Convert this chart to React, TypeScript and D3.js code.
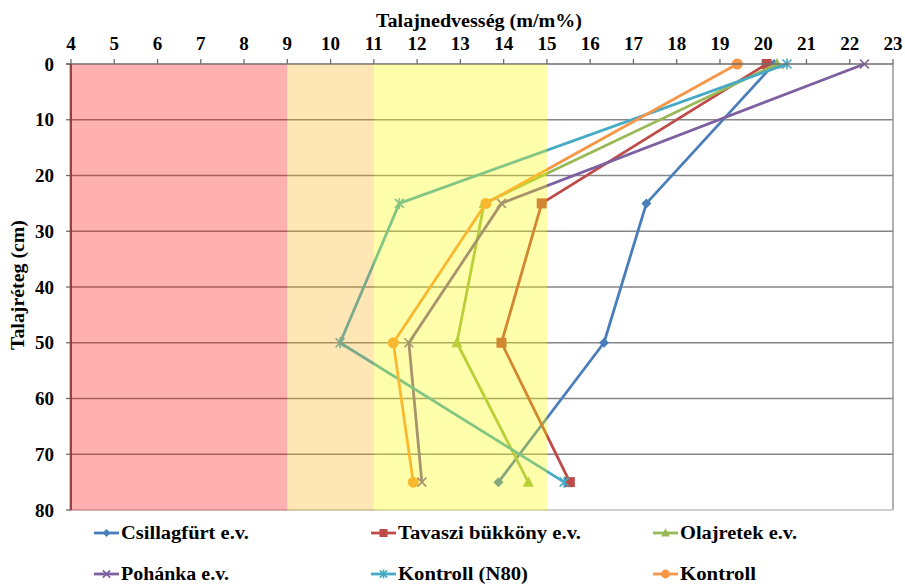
import React from "react";
import * as d3 from "d3";

const depths = [0, 25, 50, 75];
const xTickValues = d3.range(4, 24);
const yTickValues = [0, 10, 20, 30, 40, 50, 60, 70, 80];

const csillagfurt = [20.25, 17.3, 16.32, 13.88];
const tavaszi = [20.08, 14.88, 13.95, 15.53];
const olajretek = [20.32, 13.55, 12.92, 14.57];
const pohanka = [22.34, 13.95, 11.81, 12.11];
const kontrollN80 = [20.55, 11.59, 10.22, 15.4];
const kontroll = [19.4, 13.59, 11.45, 11.91];

const seriesNames = [
  "Csillagfürt e.v.",
  "Tavaszi bükköny e.v.",
  "Olajretek e.v.",
  "Pohánka e.v.",
  "Kontroll (N80)",
  "Kontroll",
];
const seriesValues = [csillagfurt, tavaszi, olajretek, pohanka, kontrollN80, kontroll];
const seriesColors = ["#4a7ebb", "#be4b48", "#98b954", "#7d60a0", "#46aac5", "#f79646"];
const seriesMarkers = ["diamond", "square", "triangle", "x", "star", "circle"];

// Moisture zones (m/m%)
const zoneRanges = [
  [4, 9],
  [9, 11],
  [11, 15],
];
const zoneColors = ["rgb(255,0,0)", "rgb(250,168,0)", "rgb(255,255,0)"];
const zoneOpacity = [0.31, 0.29, 0.33];

const FONT = "'Liberation Serif', 'Times New Roman', serif";

function Marker({ type, cx, cy, color, s = 1 }: { type: string; cx: number; cy: number; color: string; s?: number }) {
  switch (type) {
    case "diamond":
      return (
        <path
          d={`M${cx},${cy - 5 * s}L${cx + 5 * s},${cy}L${cx},${cy + 5 * s}L${cx - 5 * s},${cy}Z`}
          fill={color}
        />
      );
    case "square":
      return <rect x={cx - 5 * s} y={cy - 5 * s} width={10 * s} height={10 * s} fill={color} />;
    case "triangle":
      return (
        <path
          d={`M${cx},${cy - 6 * s}L${cx + 5.5 * s},${cy + 4.5 * s}L${cx - 5.5 * s},${cy + 4.5 * s}Z`}
          fill={color}
        />
      );
    case "x": {
      const a = 4.5 * s;
      return (
        <path
          d={`M${cx - a},${cy - a}L${cx + a},${cy + a}M${cx - a},${cy + a}L${cx + a},${cy - a}`}
          stroke={color}
          strokeWidth={1.6}
        />
      );
    }
    case "star": {
      const a = 4.5 * s;
      return (
        <path
          d={`M${cx - a},${cy - a}L${cx + a},${cy + a}M${cx - a},${cy + a}L${cx + a},${cy - a}M${cx},${cy - a - 1}L${cx},${cy + a + 1}`}
          stroke={color}
          strokeWidth={1.6}
        />
      );
    }
    case "circle":
    default:
      return <circle cx={cx} cy={cy} r={5.5 * s} fill={color} />;
  }
}

export default function App() {
  const W = 905;
  const H = 585;
  const x = d3.scaleLinear().domain([4, 23]).range([71, 893]);
  const y = d3.scaleLinear().domain([0, 80]).range([64, 510]);

  const line = d3
    .line<[number, number]>()
    .x((d) => x(d[0]))
    .y((d) => y(d[1]));

  const legendCols = [94, 371, 653];
  const legendRows = [533, 574];
  const legendTextLen = [128, 183, 117, 108, 130, 76];

  return (
    <svg
      width={W}
      height={H}
      style={{ position: "absolute", left: 0, top: 0, background: "#fff" }}
      fontFamily={FONT}
      fontWeight="bold"
    >
      <rect x={0} y={0} width={W} height={H} fill="#fff" />
      {/* gridlines */}
      {yTickValues.slice(1, -1).map((t) => (
        <line key={t} x1={x(4)} x2={x(23)} y1={y(t)} y2={y(t)} stroke="#868686" strokeWidth={1.3} />
      ))}
      {/* plot border */}
      <line x1={x(23)} x2={x(23)} y1={y(0)} y2={y(80)} stroke="#868686" strokeWidth={1.3} />
      <line x1={x(4)} x2={x(23)} y1={y(80)} y2={y(80)} stroke="#c0c0c0" strokeWidth={1.3} />

      {/* series */}
      {seriesValues.map((vals, i) => {
        const pts = vals.map((v, j) => [v, depths[j]] as [number, number]);
        return (
          <g key={i}>
            <path d={line(pts) || ""} fill="none" stroke={seriesColors[i]} strokeWidth={2.8} strokeLinejoin="round" />
            {pts.map((p, j) => (
              <Marker key={j} type={seriesMarkers[i]} cx={x(p[0])} cy={y(p[1])} color={seriesColors[i]} />
            ))}
          </g>
        );
      })}

      {/* axes */}
      <line x1={x(4) - 5} x2={x(23)} y1={y(0)} y2={y(0)} stroke="#6e6e6e" strokeWidth={1.3} />
      {xTickValues.map((t) => (
        <line key={t} x1={x(t)} x2={x(t)} y1={y(0) - 5} y2={y(0)} stroke="#6e6e6e" strokeWidth={1.3} />
      ))}
      <line x1={x(4)} x2={x(4)} y1={y(0)} y2={y(80)} stroke="#3a3a3a" strokeWidth={1.6} />
      {yTickValues.map((t) => (
        <line key={t} x1={x(4) - 5} x2={x(4)} y1={y(t)} y2={y(t)} stroke="#6e6e6e" strokeWidth={1.3} />
      ))}

      {/* zone overlays */}
      {zoneRanges.map((r, i) => (
        <rect
          key={i}
          x={x(r[0]) - (i === 0 ? 2 : 0)}
          y={y(0) + 0.5}
          width={x(r[1]) - x(r[0]) + (i === 0 ? 2 : 0)}
          height={y(80) - y(0)}
          fill={zoneColors[i]}
          fillOpacity={zoneOpacity[i]}
        />
      ))}

      {/* tick labels */}
      {xTickValues.map((t) => (
        <text key={t} x={x(t)} y={50} textAnchor="middle" fontSize={19} fill="#000">
          {t}
        </text>
      ))}
      {yTickValues.map((t) => (
        <text key={t} x={54} y={y(t)} dy="0.35em" textAnchor="end" fontSize={19} fill="#000">
          {t}
        </text>
      ))}

      {/* axis titles */}
      <text x={479} y={27} textAnchor="middle" fontSize={18} textLength={206} lengthAdjust="spacingAndGlyphs">
        Talajnedvesség (m/m%)
      </text>
      <text
        transform={`translate(24,285) rotate(-90)`}
        textAnchor="middle"
        fontSize={18}
        textLength={130}
        lengthAdjust="spacingAndGlyphs"
      >
        Talajréteg (cm)
      </text>

      {/* legend */}
      {seriesNames.map((name, i) => {
        const lx = legendCols[i % 3];
        const ly = legendRows[Math.floor(i / 3)];
        return (
          <g key={name}>
            <line x1={lx} x2={lx + 25} y1={ly} y2={ly} stroke={seriesColors[i]} strokeWidth={2.8} />
            <Marker type={seriesMarkers[i]} cx={lx + 12.5} cy={ly} color={seriesColors[i]} s={0.8} />
            <text
              x={lx + 27}
              y={ly}
              dy="0.35em"
              fontSize={18}
              textLength={legendTextLen[i]}
              lengthAdjust="spacingAndGlyphs"
            >
              {name}
            </text>
          </g>
        );
      })}
    </svg>
  );
}
